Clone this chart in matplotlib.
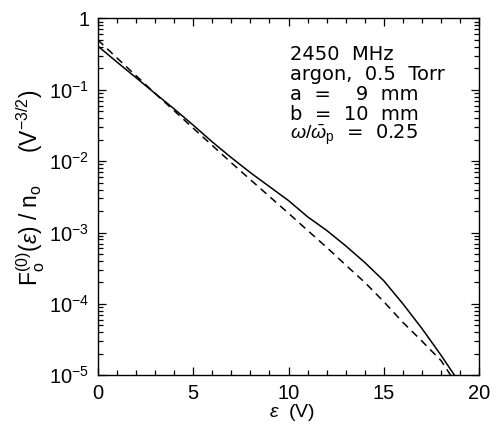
import matplotlib
matplotlib.use('Agg')

import matplotlib.pyplot as plt
from matplotlib.ticker import LogLocator, FuncFormatter, MultipleLocator
import numpy as np

plt.rcParams['font.family'] = ['Liberation Sans', 'DejaVu Sans']
plt.rcParams['mathtext.fontset'] = 'custom'
plt.rcParams['mathtext.rm'] = 'Liberation Sans'
plt.rcParams['mathtext.it'] = 'Liberation Sans:italic'
plt.rcParams['mathtext.bf'] = 'Liberation Sans:bold'

# energy (V) and distribution values
eps_solid = [0, 1, 2, 3, 4, 5, 6, 7, 8, 9, 10, 11, 12, 13, 14, 15, 16, 17, 18, 18.7]
f_solid = [0.41, 0.245, 0.148, 0.089, 0.054, 0.032, 0.0186, 0.0112, 0.0069,
           0.0044, 0.0028, 0.00166, 0.00107, 6.5e-4, 3.8e-4, 2.1e-4, 1.0e-4,
           4.5e-5, 1.9e-5, 1.0e-5]

eps_dashed = [0, 1, 2, 3, 4, 5, 6, 7, 8, 9, 10, 11, 12, 13, 14, 15, 16, 17, 18, 18.5]
f_dashed = [0.50, 0.28, 0.158, 0.089, 0.051, 0.029, 0.0166, 0.0095, 0.0055,
            0.0032, 0.00186, 0.00107, 6.2e-4, 3.5e-4, 2.0e-4, 1.07e-4, 5.5e-5,
            3.0e-5, 1.6e-5, 1.0e-5]

info_lines = ['2450  MHz', 'argon,  0.5  Torr', 'a  =    9  mm', 'b  =  10  mm',
              r'$\omega/\bar{\omega}_{\rm p}$  =  0.25']


def log_label(v, pos):
    e = int(round(np.log10(v)))
    if e == 0:
        return '1'
    return r'$10^{%d}$' % e


fig = plt.figure(figsize=(4.97, 4.26), dpi=100)
ax = fig.add_axes([0.1966, 0.119, 0.7678, 0.838])

ax.plot(eps_solid, f_solid, color='black', linewidth=1.1)
ax.plot(eps_dashed, f_dashed, color='black', linewidth=1.1, dashes=(5, 3.5))

ax.set_yscale('log')
ax.set_xlim(0, 20)
ax.set_ylim(1e-5, 1)

ax.xaxis.set_major_locator(MultipleLocator(5))
ax.xaxis.set_minor_locator(MultipleLocator(1))
ax.yaxis.set_major_locator(LogLocator(base=10, numticks=10))
ax.yaxis.set_minor_locator(LogLocator(base=10, subs=range(2, 10), numticks=20))
ax.yaxis.set_major_formatter(FuncFormatter(log_label))
ax.yaxis.set_minor_formatter(plt.NullFormatter())

ax.tick_params(which='both', direction='in', top=True, right=True,
               labelsize=14.5, width=0.9)
ax.tick_params(which='major', length=6, pad=6)
ax.tick_params(which='minor', length=3.5)
for s in ax.spines.values():
    s.set_linewidth(1.0)

ax.set_xlabel(r'$\varepsilon$  (V)', fontsize=14)
ax.xaxis.set_label_coords(0.51, -0.074)
ax.set_ylabel(r'F$_{\rm o}^{\rm (0)}$($\varepsilon$) / n$_{\rm o}$     (V$^{-3/2}$)',
              fontsize=16.5)
ax.yaxis.set_label_coords(-0.133, 0.526)

y0 = 0.883
for i, line in enumerate(info_lines):
    ax.text(0.504, y0 - i * 0.0555, line, transform=ax.transAxes,
            fontsize=14, family='DejaVu Sans', ha='left', va='baseline')

fig.savefig('out.png', dpi=100)
plt.close(fig)
